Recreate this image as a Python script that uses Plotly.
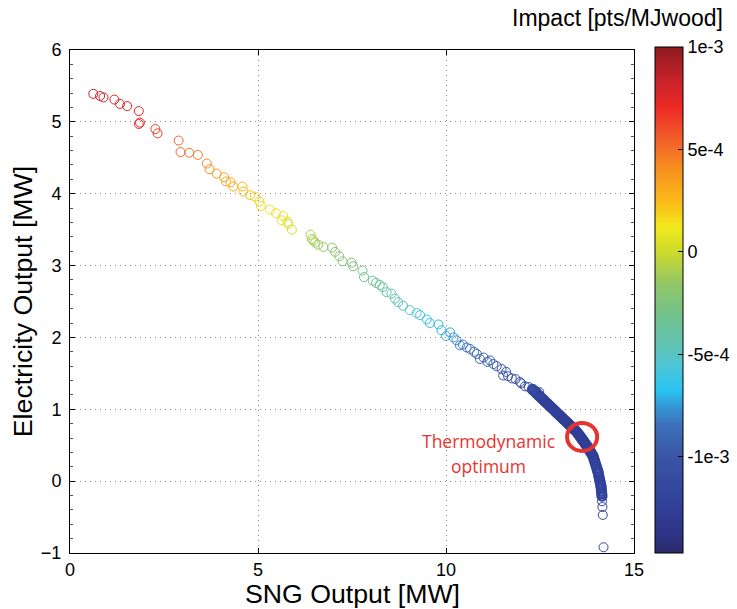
import plotly.graph_objects as go

# ---------------- data ----------------
# scattered Pareto points
sng_output = [
    0.62, 0.80, 0.89, 1.18, 1.33, 1.52, 1.83, 1.86, 1.83, 2.27, 2.33,
    2.89, 2.94, 3.17, 3.40, 3.64, 3.71, 3.90, 4.10, 4.15, 4.27, 4.34,
    4.59, 4.61, 4.79, 4.92, 5.04, 5.08, 5.32, 5.48, 5.67, 5.63, 5.78,
    5.81, 5.90,
    6.40, 6.43, 6.47, 6.52, 6.60, 6.74, 6.97, 7.05, 7.16, 7.25, 7.49,
    7.53, 7.78, 7.82, 8.05, 8.14, 8.24, 8.32, 8.42, 8.55, 8.64, 8.73,
    8.86, 9.04, 9.22, 9.31, 9.49, 9.57, 9.80, 9.88, 10.00, 10.11, 10.20,
    10.28, 10.37, 10.45, 10.55, 10.64, 10.75, 10.82, 10.90, 11.00, 11.10,
    11.17, 11.26, 11.35, 11.48, 11.52, 11.60, 11.65, 11.75, 11.85, 11.97,
    12.00, 12.10, 12.20, 12.32, 12.40, 12.48,
    14.15, 14.16, 14.17, 14.19,
]
electricity_output = [
    5.39, 5.36, 5.34, 5.31, 5.25, 5.22, 5.15, 4.99, 4.97, 4.90, 4.84,
    4.74, 4.58, 4.57, 4.54, 4.42, 4.34, 4.28, 4.23, 4.17, 4.16, 4.10,
    4.10, 4.03, 3.98, 3.96, 3.89, 3.83, 3.78, 3.73, 3.69, 3.63, 3.61,
    3.58, 3.50,
    3.43, 3.37, 3.35, 3.32, 3.29, 3.26, 3.25, 3.19, 3.13, 3.06, 3.04,
    2.99, 2.93, 2.84, 2.79, 2.76, 2.73, 2.70, 2.63, 2.61, 2.54, 2.49,
    2.44, 2.38, 2.34, 2.31, 2.25, 2.20, 2.18, 2.10, 2.02, 2.07, 2.00,
    1.96, 1.89, 1.90, 1.86, 1.84, 1.80, 1.77, 1.70, 1.72, 1.66,
    1.68, 1.63, 1.60, 1.56, 1.47, 1.52, 1.46, 1.43, 1.42, 1.38,
    1.36, 1.32, 1.31, 1.28, 1.25, 1.24,
    -0.28, -0.36, -0.47, -0.92,
]
impact = [
    8.6e-4, 8.3e-4, 8.2e-4, 7.9e-4, 7.7e-4, 7.6e-4, 7.4e-4, 7.2e-4, 7.2e-4, 6.6e-4, 6.5e-4,
    5.5e-4, 5.2e-4, 5.0e-4, 4.7e-4, 4.3e-4, 4.1e-4, 3.8e-4, 3.5e-4, 3.3e-4, 3.2e-4, 3.0e-4,
    2.5e-4, 2.4e-4, 2.1e-4, 1.9e-4, 1.7e-4, 1.6e-4, 1.3e-4, 1.1e-4, 0.9e-4, 0.8e-4, 0.6e-4,
    0.5e-4, 0.2e-4,
    -0.8e-4, -0.9e-4, -1.0e-4, -1.1e-4, -1.2e-4, -1.4e-4, -1.7e-4, -1.9e-4, -2.1e-4, -2.3e-4, -2.6e-4,
    -2.7e-4, -3.0e-4, -3.1e-4, -3.4e-4, -3.5e-4, -3.7e-4, -3.8e-4, -4.0e-4, -4.2e-4, -4.4e-4, -4.6e-4,
    -4.9e-4, -5.3e-4, -5.7e-4, -5.9e-4, -6.3e-4, -6.5e-4, -6.9e-4, -7.0e-4, -7.2e-4, -7.4e-4, -7.6e-4,
    -7.8e-4, -8.0e-4, -8.2e-4, -8.4e-4, -8.5e-4, -8.7e-4, -8.8e-4, -9.0e-4, -9.1e-4, -9.3e-4,
    -9.4e-4, -9.6e-4, -9.8e-4, -1.00e-3, -1.00e-3, -1.02e-3, -1.03e-3, -1.04e-3, -1.06e-3, -1.07e-3,
    -1.08e-3, -1.09e-3, -1.11e-3, -1.12e-3, -1.13e-3, -1.14e-3,
    -1.20e-3, -1.19e-3, -1.18e-3, -1.16e-3,
]

# densely packed points near the thermodynamic optimum
band_sng = [
    12.30, 12.34, 12.38, 12.42, 12.46, 12.50, 12.54, 12.58, 12.62, 12.66,
    12.70, 12.74, 12.78, 12.82, 12.86, 12.90, 12.94, 12.98, 13.02, 13.06,
    13.10, 13.14, 13.18, 13.22, 13.26, 13.30, 13.34, 13.38, 13.42, 13.46,
    13.51, 13.54, 13.57, 13.60, 13.63, 13.66, 13.69, 13.72, 13.75,
    13.775, 13.80, 13.825, 13.85, 13.875, 13.91,
    13.930, 13.951, 13.972, 13.993, 14.014, 14.035, 14.043,
    14.057, 14.071, 14.085, 14.099, 14.113, 14.122,
    14.129, 14.136, 14.142, 14.149,
]
band_electricity = [
    1.276, 1.256, 1.236, 1.216, 1.196, 1.176, 1.156, 1.136, 1.116, 1.096,
    1.076, 1.056, 1.036, 1.016, 0.996, 0.976, 0.956, 0.936, 0.916, 0.896,
    0.876, 0.856, 0.836, 0.816, 0.796, 0.776, 0.756, 0.736, 0.716, 0.696,
    0.664, 0.642, 0.620, 0.598, 0.576, 0.554, 0.532, 0.510, 0.488,
    0.466, 0.444, 0.423, 0.401, 0.379, 0.349,
    0.315, 0.280, 0.245, 0.210, 0.175, 0.140, 0.126,
    0.091, 0.056, 0.021, -0.014, -0.049, -0.070,
    -0.105, -0.140, -0.175, -0.209,
]
band_impact = [
    -1.15e-3, -1.16e-3, -1.17e-3, -1.18e-3, -1.19e-3, -1.20e-3, -1.20e-3, -1.21e-3, -1.21e-3, -1.22e-3,
    -1.22e-3, -1.23e-3, -1.23e-3, -1.23e-3, -1.24e-3, -1.24e-3, -1.24e-3, -1.25e-3, -1.25e-3, -1.25e-3,
    -1.25e-3, -1.26e-3, -1.26e-3, -1.26e-3, -1.26e-3, -1.26e-3, -1.27e-3, -1.27e-3, -1.27e-3, -1.27e-3,
    -1.27e-3, -1.27e-3, -1.27e-3, -1.27e-3, -1.27e-3, -1.27e-3, -1.27e-3, -1.27e-3, -1.27e-3,
    -1.26e-3, -1.26e-3, -1.26e-3, -1.26e-3, -1.26e-3, -1.26e-3,
    -1.25e-3, -1.25e-3, -1.25e-3, -1.25e-3, -1.24e-3, -1.24e-3, -1.24e-3,
    -1.23e-3, -1.23e-3, -1.23e-3, -1.22e-3, -1.22e-3, -1.22e-3,
    -1.21e-3, -1.21e-3, -1.21e-3, -1.20e-3,
]

cbar_tickvals = [1e-3, 5e-4, 0, -5e-4, -1e-3]
cbar_ticktext = ["1e-3", "5e-4", "0", "-5e-4", "-1e-3"]
x_ticks = [0, 5, 10, 15]
y_ticks = [-1, 0, 1, 2, 3, 4, 5, 6]

optimum_label = ["Thermodynamic", "optimum"]

# ---------------- styling ----------------
CMIN, CMAX = -1.47e-3, 1.0e-3
colorscale = [
    [0.000, "#2a2a6a"], [0.040, "#2e3587"], [0.100, "#31419a"],
    [0.190, "#3a55a5"], [0.251, "#3d6fb8"], [0.291, "#3498d6"],
    [0.320, "#27c3f2"], [0.372, "#50c5d6"], [0.413, "#62c3b2"],
    [0.474, "#74c189"], [0.534, "#94c765"], [0.595, "#cddb2c"],
    [0.644, "#f2e81c"], [0.696, "#fbb91a"], [0.757, "#f7911e"],
    [0.818, "#f15f2a"], [0.879, "#ed2a24"], [0.939, "#c4222a"],
    [1.000, "#8b1a1e"],
]
FONT = "Liberation Sans, Arial, sans-serif"
RED = "#e8342e"

# plot area in pixels
L, R, T, B = 70, 634, 50, 553
PW, PH = R - L, B - T

fig = go.Figure()
fig.add_trace(go.Scatter(
    x=band_sng, y=band_electricity, mode="markers",
    marker=dict(symbol="circle-open", size=9, color=band_impact,
                colorscale=colorscale, cmin=CMIN, cmax=CMAX,
                line=dict(width=2.2), showscale=False),
    showlegend=False, hoverinfo="skip",
))
fig.add_trace(go.Scatter(
    x=sng_output, y=electricity_output, mode="markers",
    marker=dict(
        symbol="circle-open", size=9, color=impact,
        colorscale=colorscale, cmin=CMIN, cmax=CMAX,
        line=dict(width=1),
        colorbar=dict(
            x=(655 - L) / PW, xref="paper", xanchor="left",
            y=(B - 300) / PH, yanchor="middle",
            lenmode="pixels", len=506, thickness=28,
            outlinewidth=1, outlinecolor="black",
            tickvals=cbar_tickvals, ticktext=cbar_ticktext,
            ticks="inside", ticklen=5, tickcolor="black",
            tickfont=dict(family=FONT, size=18, color="black"),
            xpad=0, ypad=0,
        ),
    ),
    showlegend=False, hoverinfo="skip",
))

# thermodynamic optimum circle
fig.add_shape(type="circle", xref="x", yref="y",
              x0=13.22, x1=14.02, y0=0.42, y1=0.81,
              line=dict(color=RED, width=4))
fig.add_annotation(x=11.14, y=0.555, xref="x", yref="y", text=optimum_label[0],
                   showarrow=False, font=dict(family="Open Sans", size=17.5, color=RED))
fig.add_annotation(x=11.14, y=0.21, xref="x", yref="y", text=optimum_label[1],
                   showarrow=False, font=dict(family="Open Sans", size=17.5, color=RED))

# colorbar title
fig.add_annotation(x=(617 - L) / PW, y=(B - 18) / PH, xref="paper", yref="paper",
                   xanchor="center", yanchor="middle",
                   text="Impact [pts/MJwood]", showarrow=False,
                   font=dict(family=FONT, size=23, color="black"))

# x-axis title (placed explicitly)
fig.add_annotation(x=0.5, y=(B - 594) / PH, xref="paper", yref="paper",
                   xanchor="center", yanchor="middle",
                   text="SNG Output [MW]", showarrow=False,
                   font=dict(family=FONT, size=26.7, color="black"))

axis_common = dict(
    showline=True, linecolor="black", linewidth=1,
    ticks="inside", ticklen=5, tickcolor="black",
    showgrid=True, gridcolor="#8c8c8c", griddash="1px,4px", gridwidth=1,
    zeroline=False, mirror="ticks",
    tickfont=dict(family=FONT, size=18, color="black"),
)
fig.update_xaxes(range=[0, 15], tickvals=x_ticks, ticklabelstandoff=0, **axis_common)
fig.update_yaxes(range=[-1, 6], tickvals=y_ticks, ticklabelstandoff=4, **axis_common,
                 minor=dict(dtick=0.2, ticklen=3, ticks="inside", tickcolor="#555", showgrid=False),
                 title=dict(text="Electricity Output [MW]", standoff=0,
                            font=dict(family=FONT, size=26.7, color="black")))

fig.update_layout(
    width=737, height=609,
    margin=dict(l=L, r=737 - R, t=T, b=609 - B, autoexpand=False),
    paper_bgcolor="white", plot_bgcolor="white",
    font=dict(family=FONT, color="black"),
)

fig.write_html("out.html")
